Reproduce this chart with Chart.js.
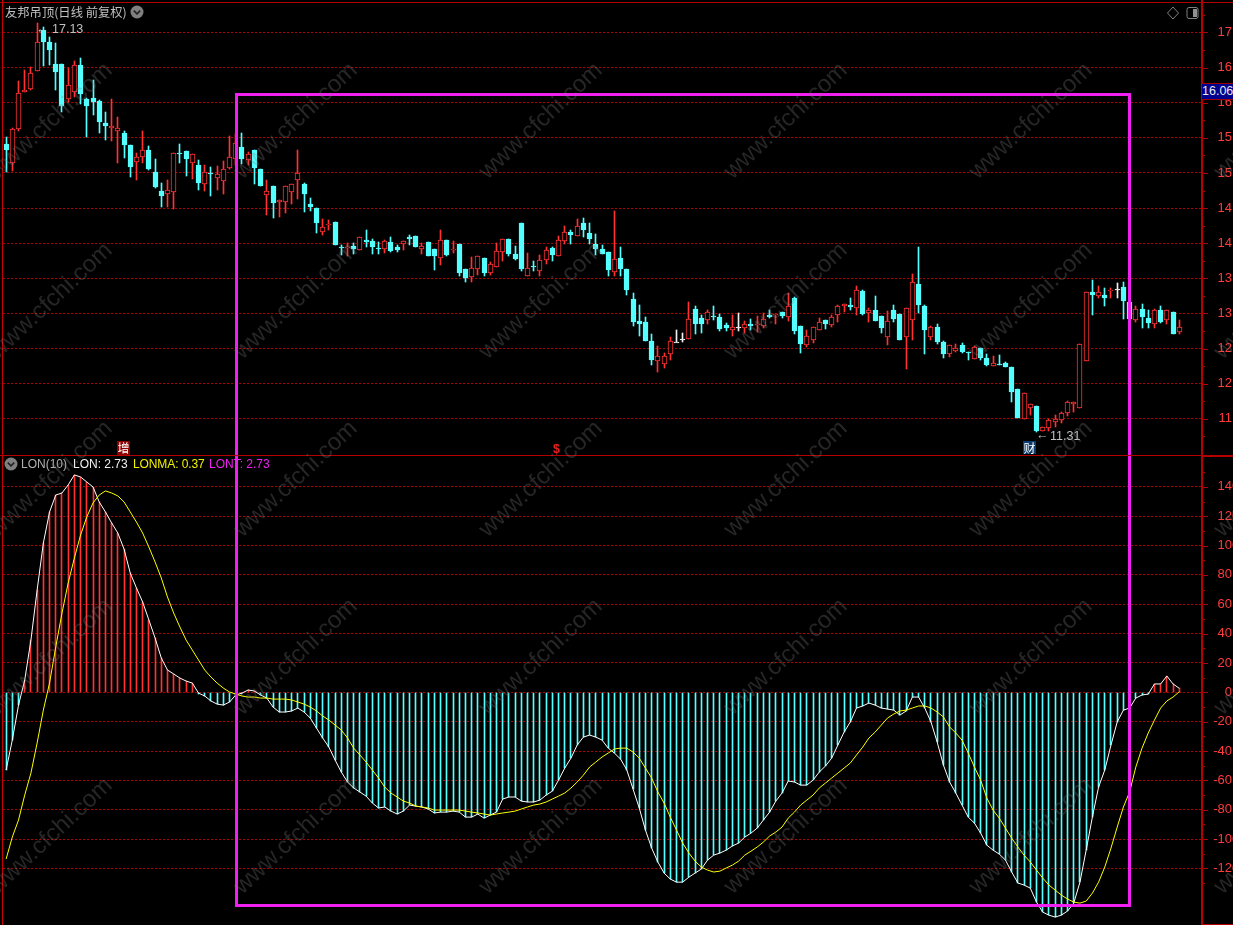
<!DOCTYPE html>
<html>
<head>
<meta charset="utf-8">
<title>友邦吊顶</title>
<script src="https://cdn.jsdelivr.net/npm/chart.js@4"></script>
<style>
  html, body { margin: 0; background: #000; }
  #stage { position: relative; width: 1233px; height: 925px; overflow: hidden; background: #000; font-family: "Liberation Sans", Arial, sans-serif; }
  canvas { position: absolute; left: 0; }
  .t { position: absolute; white-space: pre; line-height: 14px; font-size: 12.5px; }
  .wm { position: absolute; width: 220px; text-align: center; font-size: 24px; line-height: 28px; color: rgba(125,125,125,.3); transform: rotate(-43deg); white-space: nowrap; pointer-events: none; }
  #box { position: absolute; left: 235px; top: 93px; width: 896px; height: 814px; box-sizing: border-box; border: 3px solid #f020f0; }
</style>
</head>
<body>
<div id="stage">
  <canvas id="kline"></canvas>
  <canvas id="lonChart"></canvas>

  <div id="box"></div>

  <span class="t" style="left:5px;top:5px;color:#c0c0c0;font-family:'Noto Sans CJK SC';font-size:12.3px">友邦吊顶(日线 前复权)</span>
  <svg style="position:absolute;left:130px;top:5px" width="14" height="14"><circle cx="7" cy="7" r="6.5" fill="#808080"/><path d="M3.8 5.6 L7 8.8 L10.2 5.6" stroke="#222" stroke-width="1.6" fill="none"/></svg>
  <svg style="position:absolute;left:1166px;top:6px" width="36" height="14"><path d="M7 1 L12.5 7 L7 13 L1.5 7 Z" stroke="#808080" fill="none"/><rect x="21" y="1.5" width="11" height="11" rx="2" stroke="#808080" fill="#000"/><rect x="27" y="3" width="4" height="8" fill="#909090"/></svg>

  <span class="t" style="left:36px;top:22px;color:#c0c0c0">←</span>
  <span class="t" style="left:52px;top:22px;color:#c0c0c0">17.13</span>
  <span class="t" style="left:1036px;top:428px;color:#c0c0c0">←</span>
  <span class="t" style="left:1050px;top:429px;color:#c0c0c0">11.31</span>

  <span class="t" style="left:117px;top:441px;width:13px;height:14px;background:#8c0000;color:#fff;font-family:'Noto Sans CJK SC';font-size:12px;text-align:center">增</span>
  <span class="t" style="left:553px;top:442px;color:#e82020;font-weight:bold;font-size:12.5px">$</span>
  <span class="t" style="left:1023px;top:441px;width:13px;height:13px;background:#0c3c6c;color:#fff;font-family:'Noto Sans CJK SC';font-size:12px;text-align:center">财</span>

  <span class="t" style="left:1202px;top:83px;width:31px;height:15px;background:#00008c;border-top:1px solid #a00000;border-bottom:1px solid #a00000;color:#e8e8e8;text-align:center;line-height:15px">16.06</span>

  <svg style="position:absolute;left:4px;top:457px" width="14" height="14"><circle cx="7" cy="7" r="6.5" fill="#808080"/><path d="M3.8 5.6 L7 8.8 L10.2 5.6" stroke="#222" stroke-width="1.6" fill="none"/></svg>
  <span class="t" style="left:21px;top:457px;color:#b0b0b0;font-size:12px">LON(10)</span>
  <span class="t" style="left:73px;top:457px;color:#f0f0f0;font-size:12px">LON: 2.73</span>
  <span class="t" style="left:133px;top:457px;color:#f0f000;font-size:12px;letter-spacing:-0.1px">LONMA: 0.37</span>
  <span class="t" style="left:209px;top:457px;color:#f020f0;font-size:12px">LONT: 2.73</span>
</div>

<script>
const opens = [
  15.41, 15.14, 15.63, 16.15, 16.20, 16.45, 17.04, 16.87, 16.55, 16.55,
  16.05, 16.15, 16.54, 16.05, 16.07, 16.02, 15.71, 15.64, 15.60, 15.57,
  15.40, 15.16, 15.23, 15.33, 15.01, 14.74, 14.70, 14.73, 15.28, 15.31,
  15.14, 15.11, 14.84, 15.00, 14.93, 14.88, 15.07, 15.20, 15.37, 15.18,
  15.33, 15.06, 14.69, 14.81, 14.59, 14.59, 14.73, 14.90, 14.84, 14.56,
  14.50, 14.16, 14.26, 14.30, 13.94, 13.93, 13.96, 13.90, 14.04, 14.03,
  13.93, 13.92, 14.02, 13.94, 13.99, 14.09, 14.10, 13.92, 14.02, 13.92,
  13.79, 14.04, 13.90, 13.99, 13.63, 13.52, 13.63, 13.79, 13.57, 13.66,
  13.87, 14.06, 13.85, 14.29, 13.53, 13.67, 13.60, 13.76, 13.93, 13.82,
  14.03, 14.16, 14.10, 14.29, 14.14, 13.99, 13.92, 13.87, 13.59, 13.79,
  13.63, 13.20, 12.89, 12.88, 12.61, 12.32, 12.28, 12.42, 12.60, 12.64,
  12.63, 13.06, 12.93, 12.90, 12.96, 12.95, 12.83, 12.76, 12.80, 12.79,
  12.85, 12.83, 12.82, 12.98, 12.98, 13.02, 12.95, 13.22, 12.82, 12.55,
  12.62, 12.76, 12.90, 12.83, 12.98, 13.10, 13.12, 13.08, 13.32, 13.00,
  13.05, 12.96, 12.66, 13.05, 12.99, 12.66, 12.90, 13.42, 13.10, 12.66,
  12.81, 12.59, 12.42, 12.46, 12.55, 12.45, 12.35, 12.51, 12.36, 12.25,
  12.28, 12.29, 12.24, 11.92, 11.49, 11.65, 11.68, 11.33, 11.37, 11.45,
  11.48, 11.58, 11.71, 11.66, 12.32, 13.30, 13.25, 13.26, 13.32, 13.35,
  13.38, 13.16, 12.90, 13.06, 12.93, 12.85, 13.05, 12.90, 13.02, 12.73
];
const closes = [
  15.33, 15.63, 16.14, 16.18, 16.42, 16.87, 16.87, 16.75, 16.44, 15.95,
  16.25, 16.54, 16.12, 15.95, 16.01, 15.73, 15.67, 15.67, 15.64, 15.40,
  15.08, 15.23, 15.33, 15.06, 14.80, 14.67, 14.76, 15.28, 15.27, 15.20,
  15.27, 14.86, 15.01, 14.98, 14.98, 15.06, 15.23, 15.43, 15.20, 15.27,
  15.07, 14.81, 14.74, 14.57, 14.61, 14.81, 14.84, 15.00, 14.70, 14.51,
  14.29, 14.23, 14.27, 13.97, 13.93, 13.94, 13.92, 14.09, 14.02, 13.94,
  13.92, 14.03, 13.89, 13.90, 14.03, 14.06, 13.94, 13.96, 13.82, 13.82,
  14.04, 13.83, 13.92, 13.57, 13.50, 13.65, 13.82, 13.57, 13.70, 13.89,
  14.06, 13.85, 13.77, 13.63, 13.65, 13.66, 13.76, 13.90, 13.83, 14.04,
  14.16, 14.12, 14.24, 14.19, 14.06, 13.92, 13.85, 13.62, 13.77, 13.63,
  13.33, 12.88, 12.85, 12.61, 12.33, 12.39, 12.40, 12.61, 12.60, 12.64,
  12.92, 12.85, 12.85, 13.02, 12.95, 12.78, 12.79, 12.81, 12.80, 12.85,
  12.82, 12.85, 12.92, 12.95, 12.99, 12.96, 13.10, 12.75, 12.56, 12.68,
  12.80, 12.88, 12.85, 12.95, 13.10, 13.13, 13.09, 13.33, 12.99, 13.05,
  12.89, 12.79, 12.89, 12.92, 12.62, 13.08, 13.45, 13.12, 12.76, 12.81,
  12.59, 12.42, 12.55, 12.51, 12.45, 12.43, 12.52, 12.36, 12.26, 12.29,
  12.26, 12.24, 11.88, 11.51, 11.86, 11.71, 11.32, 11.38, 11.48, 11.49,
  11.58, 11.74, 11.74, 12.56, 13.30, 13.26, 13.30, 13.22, 13.33, 13.35,
  13.18, 12.92, 13.06, 12.95, 12.86, 13.05, 12.88, 13.05, 12.70, 12.81
];
const highs = [
  15.51, 15.64, 16.31, 16.47, 16.51, 17.13, 17.08, 16.94, 16.85, 16.55,
  16.49, 16.59, 16.64, 16.07, 16.32, 16.04, 15.87, 16.05, 15.80, 15.60,
  15.40, 15.28, 15.60, 15.38, 15.20, 14.86, 14.90, 15.28, 15.41, 15.31,
  15.27, 15.18, 15.11, 15.08, 15.10, 15.17, 15.53, 15.55, 15.57, 15.30,
  15.33, 15.06, 14.90, 14.81, 14.61, 14.81, 14.84, 15.33, 14.86, 14.64,
  14.50, 14.34, 14.33, 14.30, 13.97, 14.00, 14.00, 14.09, 14.19, 14.06,
  14.02, 14.04, 14.09, 13.97, 14.03, 14.12, 14.10, 14.00, 14.02, 13.92,
  14.19, 14.04, 14.03, 13.99, 13.63, 13.80, 13.82, 13.79, 13.73, 14.00,
  14.06, 14.06, 13.96, 14.29, 13.86, 13.75, 13.83, 13.94, 13.94, 14.10,
  14.24, 14.19, 14.34, 14.36, 14.29, 14.13, 13.97, 13.87, 14.46, 13.94,
  13.63, 13.29, 13.12, 12.95, 12.70, 12.53, 12.43, 12.66, 12.76, 12.72,
  13.16, 13.10, 12.98, 13.05, 13.10, 12.99, 12.86, 12.98, 13.00, 12.89,
  12.92, 12.96, 13.00, 13.05, 12.99, 13.02, 13.29, 13.23, 12.82, 12.76,
  12.80, 12.93, 12.90, 12.98, 13.12, 13.13, 13.22, 13.39, 13.33, 13.08,
  13.25, 12.96, 13.03, 13.12, 12.99, 13.08, 13.56, 13.94, 13.12, 12.82,
  12.85, 12.61, 12.55, 12.56, 12.58, 12.45, 12.53, 12.51, 12.42, 12.39,
  12.41, 12.31, 12.24, 11.92, 11.86, 11.71, 11.68, 11.38, 11.49, 11.55,
  11.59, 11.75, 11.74, 12.56, 13.30, 13.47, 13.39, 13.36, 13.36, 13.43,
  13.45, 13.16, 13.10, 13.13, 13.05, 13.06, 13.10, 13.05, 13.02, 12.90
];
const lows = [
  15.01, 15.03, 15.60, 16.15, 16.18, 16.45, 16.52, 16.54, 16.18, 15.87,
  16.01, 16.08, 15.98, 15.51, 15.82, 15.57, 15.47, 15.45, 15.14, 15.21,
  14.94, 14.90, 15.14, 15.04, 14.79, 14.51, 14.51, 14.49, 15.14, 14.96,
  14.91, 14.76, 14.74, 14.67, 14.76, 14.70, 15.06, 15.11, 15.13, 15.11,
  14.84, 14.81, 14.40, 14.36, 14.37, 14.43, 14.56, 14.63, 14.44, 14.46,
  14.14, 14.11, 14.19, 13.97, 13.83, 13.82, 13.85, 13.90, 13.94, 13.85,
  13.85, 13.86, 13.87, 13.87, 13.90, 13.97, 13.94, 13.85, 13.82, 13.62,
  13.69, 13.82, 13.86, 13.53, 13.45, 13.45, 13.55, 13.53, 13.55, 13.66,
  13.75, 13.82, 13.76, 13.60, 13.53, 13.60, 13.53, 13.70, 13.75, 13.82,
  13.99, 13.99, 14.10, 14.09, 13.99, 13.83, 13.85, 13.53, 13.53, 13.53,
  13.26, 12.82, 12.68, 12.61, 12.26, 12.16, 12.22, 12.33, 12.59, 12.59,
  12.63, 12.70, 12.72, 12.85, 12.90, 12.75, 12.75, 12.68, 12.75, 12.72,
  12.76, 12.73, 12.79, 12.93, 12.85, 12.93, 12.89, 12.70, 12.43, 12.52,
  12.58, 12.76, 12.78, 12.81, 12.88, 13.02, 13.05, 12.98, 12.98, 12.88,
  12.89, 12.72, 12.55, 12.88, 12.62, 12.21, 12.62, 13.00, 12.42, 12.62,
  12.56, 12.36, 12.38, 12.45, 12.43, 12.33, 12.35, 12.33, 12.25, 12.25,
  12.26, 12.24, 11.74, 11.51, 11.49, 11.55, 11.31, 11.32, 11.32, 11.39,
  11.44, 11.54, 11.59, 11.66, 12.32, 12.98, 13.22, 13.10, 13.22, 13.22,
  12.92, 12.88, 12.88, 12.79, 12.79, 12.79, 12.86, 12.85, 12.70, 12.70
];
const lon = [
  -52.9, -32.5, -8.7, 8.4, 35.6, 69.7, 101.7, 122.9, 134.4, 135.8,
  141.3, 148.1, 146.7, 143.3, 139.9, 129.7, 122.9, 115.4, 108.5, 97.6,
  81.3, 71.1, 61.5, 49.3, 37.0, 23.4, 15.2, 12.5, 9.7, 7.7,
  6.3, -0.5, -2.5, -5.9, -8.0, -8.7, -6.6, -1.8, -0.5, 1.6,
  0.9, -1.8, -3.9, -10.0, -13.4, -13.4, -12.7, -10.7, -13.4, -17.5,
  -24.3, -31.1, -37.3, -46.1, -54.3, -61.1, -65.2, -67.9, -70.7, -75.4,
  -78.8, -78.1, -80.9, -82.9, -80.9, -76.8, -77.5, -78.1, -79.5, -82.2,
  -81.6, -81.6, -80.9, -81.6, -85.0, -85.0, -82.9, -85.7, -83.6, -81.6,
  -72.7, -71.3, -71.3, -74.1, -74.7, -74.7, -73.4, -70.0, -67.3, -59.8,
  -51.6, -44.8, -35.9, -30.5, -29.1, -30.5, -32.5, -38.0, -41.4, -45.5,
  -52.9, -65.9, -78.8, -93.8, -106.1, -115.6, -123.1, -127.2, -129.3, -129.3,
  -125.9, -123.1, -120.4, -114.3, -110.9, -109.5, -107.5, -104.7, -102.7, -98.6,
  -95.9, -92.5, -87.0, -81.6, -74.1, -68.6, -60.4, -61.1, -63.2, -63.2,
  -59.8, -54.3, -50.2, -44.8, -35.9, -27.1, -20.2, -10.7, -9.3, -7.3,
  -8.7, -10.7, -11.4, -12.1, -15.5, -12.7, -3.2, -3.2, -10.7, -20.2,
  -33.9, -49.5, -61.1, -68.6, -76.8, -85.0, -89.1, -95.9, -104.1, -107.5,
  -110.2, -114.3, -122.4, -129.9, -131.3, -133.4, -142.9, -149.7, -151.8, -153.1,
  -151.8, -149.0, -143.6, -129.3, -107.5, -85.0, -64.5, -52.9, -35.9, -20.2,
  -12.1, -10.7, -3.9, -1.8, -1.2, 5.7, 5.7, 11.1, 5.7, 2.73
];
const lonma = [
  -113.6, -98.6, -87.0, -70.0, -55.0, -34.5, -12.1, 6.3, 30.9, 54.0,
  74.5, 91.5, 107.2, 119.5, 129.0, 134.4, 137.2, 135.8, 133.8, 129.7,
  122.9, 116.0, 108.5, 99.0, 88.8, 77.9, 64.9, 54.0, 44.5, 35.6,
  28.8, 22.0, 15.2, 10.4, 6.3, 2.9, 0.2, -1.2, -2.5, -3.2,
  -3.2, -3.9, -3.9, -4.6, -4.6, -4.6, -5.2, -6.6, -8.0, -10.0,
  -12.7, -16.1, -18.9, -22.3, -25.7, -31.1, -38.0, -42.7, -47.5, -52.9,
  -58.4, -64.5, -68.6, -71.3, -74.1, -75.4, -77.5, -78.1, -78.8, -80.2,
  -80.2, -80.2, -80.2, -80.2, -80.9, -81.6, -82.2, -82.9, -83.6, -82.9,
  -82.2, -81.6, -80.9, -79.5, -78.1, -76.8, -76.1, -74.7, -72.7, -70.7,
  -68.6, -65.2, -61.1, -56.4, -50.9, -47.5, -44.1, -41.4, -38.6, -38.0,
  -38.0, -40.7, -44.8, -51.6, -58.4, -67.9, -75.4, -85.0, -93.8, -102.7,
  -109.5, -115.0, -119.0, -121.1, -122.4, -121.8, -119.7, -117.7, -115.0, -110.9,
  -108.2, -105.4, -102.0, -97.9, -95.2, -91.8, -85.7, -81.6, -76.8, -73.4,
  -70.0, -65.2, -61.8, -58.4, -55.0, -51.6, -48.2, -42.7, -37.3, -31.1,
  -27.1, -22.3, -17.5, -14.8, -12.7, -12.1, -10.7, -9.3, -9.3, -10.7,
  -13.4, -16.8, -23.6, -27.7, -32.5, -41.4, -50.9, -59.8, -72.0, -80.2,
  -85.7, -92.5, -99.3, -105.4, -110.9, -115.6, -121.1, -126.5, -131.3, -134.7,
  -138.1, -140.8, -142.9, -143.6, -142.2, -136.8, -129.3, -119.0, -106.1, -91.8,
  -78.1, -67.9, -50.9, -38.0, -27.7, -18.9, -10.7, -5.9, -3.2, 0.37
];
const priceTicks = [17, 16.5, 16, 15.5, 15, 14.5, 14, 13.5, 13, 12.5, 12, 11.5];
const lonTicks = [140, 120, 100, 80, 60, 40, 20, 0, -20, -40, -60, -80, -100, -120];

// 3 empty slots on the right, the last candle stops short of the axis
const days = opens.map((_, i) => String(i + 1)).concat(["", "", ""]);

const RED = "#ff3232", CYAN = "#54ffff", WHITE = "#f0f0f0";
const AXIS = "#b40000";
const candleColor = i => closes[i] > opens[i] ? RED : closes[i] < opens[i] ? CYAN : WHITE;

// snap bars to whole pixels so wicks stay 1px sharp
const crispBars = {
  id: "crispBars",
  beforeDatasetsDraw(chart) {
    chart.getSortedVisibleDatasetMetas().forEach(meta => {
      if (meta.type !== "bar") return;
      meta.data.forEach(el => {
        el.x = Math.floor(el.x) + 0.5;
        const a = Math.round(Math.min(el.y, el.base));
        const b = Math.round(Math.max(el.y, el.base));
        el.y = a;
        el.base = b === a ? a + 1 : b;
      });
    });
  }
};

// frame lines plus long and short tick marks on the right axis
const axisMarks = {
  id: "axisMarks",
  afterDraw(chart, args, opts) {
    const { ctx, chartArea, scales } = chart;
    const y = scales.y;
    const right = chartArea.right;
    ctx.save();
    ctx.fillStyle = AXIS;
    ctx.fillRect(right, 0, 2, chart.height);
    ctx.fillStyle = "#c80000";
    ctx.fillRect(2, 0, 1, chart.height);
    ctx.fillStyle = AXIS;
    if (opts.top) ctx.fillRect(0, 2, 1233, 1);
    if (opts.bottomLine) ctx.fillRect(right, chart.height - 1, 40, 1);
    const ticks = opts.values;
    const step = ticks[0] - ticks[1];
    ticks.forEach(v => {
      ctx.fillRect(right, Math.round(y.getPixelForValue(v)), 7, 1);
      ctx.fillRect(right, Math.round(y.getPixelForValue(v - step / 2)), 4, 1);
    });
    ctx.fillRect(right, Math.round(y.getPixelForValue(ticks[0] + step / 2)), 4, 1);
    ctx.restore();
  }
};

Chart.register(crispBars, axisMarks);

function yAxis(min, max, tickValues, fmt) {
  return {
    position: "right",
    min, max,
    // no room kept for half a tick label, the plot runs the full height
    afterFit: s => { s.width = 49; s.paddingTop = 0; s.paddingBottom = 0; },
    afterBuildTicks: s => { s.ticks = tickValues.map(v => ({ value: v })); },
    grid: { color: "#b00000", lineWidth: 1, drawTicks: false },
    border: { display: false, dash: [2, 2] },
    ticks: {
      autoSkip: false,
      crossAlign: "far",
      color: "#ff3c3c",
      font: { family: "Liberation Sans", size: 13 },
      callback: fmt
    }
  };
}

function baseOptions(y, padTop, marks) {
  return {
    responsive: false,
    animation: false,
    devicePixelRatio: 1,
    events: [],
    layout: { padding: { left: 3, top: padTop, right: 0, bottom: 0 } },
    plugins: { legend: { display: false }, tooltip: { enabled: false }, axisMarks: marks },
    scales: {
      x: { display: false, grid: { display: false } },
      y
    }
  };
}

function makeCanvas(id, top, h) {
  const c = document.getElementById(id);
  c.width = 1250;
  c.height = h;
  c.style.top = top + "px";
  c.style.width = "1250px";
  c.style.height = h + "px";
  return c;
}

new Chart(makeCanvas("kline", 0, 456), {
  type: "bar",
  data: {
    labels: days,
    datasets: [
      {
        label: "body",
        data: opens.map((o, i) => [Math.min(o, closes[i]), Math.max(o, closes[i])]),
        grouped: false,
        barThickness: 5,
        borderWidth: 1,
        borderSkipped: false,
        borderColor: opens.map((_, i) => candleColor(i)),
        backgroundColor: opens.map((_, i) => candleColor(i) === RED ? "#000" : candleColor(i))
      },
      {
        label: "wick",
        data: highs.map((h, i) => [lows[i], h]),
        grouped: false,
        barThickness: 1,
        borderWidth: 0,
        backgroundColor: opens.map((_, i) => candleColor(i))
      }
    ]
  },
  options: baseOptions(
    yAxis(10.97, 17.42, priceTicks, v => Number(v).toFixed(2)),
    3,
    { values: priceTicks, top: true }
  )
});

new Chart(makeCanvas("lonChart", 456, 469), {
  type: "bar",
  data: {
    labels: days,
    datasets: [
      { type: "line", label: "LONMA", data: lonma, borderColor: "#ffff00", borderWidth: 1, pointRadius: 0, tension: 0 },
      { type: "line", label: "LON", data: lon, borderColor: "#ffffff", borderWidth: 1, pointRadius: 0, tension: 0 },
      {
        label: "LONT",
        data: lon,
        grouped: false,
        barThickness: 1,
        borderWidth: 0,
        backgroundColor: lon.map(v => v > 0 ? RED : CYAN)
      }
    ]
  },
  options: baseOptions(
    yAxis(-158.5, 161, lonTicks, v => Math.abs(v) >= 100 ? Number(v).toFixed(1) : Number(v).toFixed(2)),
    0,
    { values: lonTicks, bottomLine: true }
  )
});

// separator between the two panes sits on the lower canvas edge
const stage = document.getElementById("stage");
const sep = document.createElement("div");
sep.style.cssText = "position:absolute;left:0;top:455px;width:1233px;height:1px;background:" + AXIS;
stage.appendChild(sep);
const sepRight = document.createElement("div");
sepRight.style.cssText = "position:absolute;left:1201px;top:455px;width:32px;height:2px;background:" + AXIS;
stage.appendChild(sepRight);

// watermark grid
[120, 300, 478, 656, 835].forEach(cy => {
  [50, 295, 540, 785, 1030, 1275].forEach(cx => {
    const d = document.createElement("div");
    d.className = "wm";
    d.textContent = "www.cfchi.com";
    d.style.left = (cx - 110) + "px";
    d.style.top = (cy - 14) + "px";
    stage.appendChild(d);
  });
});
</script>
</body>
</html>
